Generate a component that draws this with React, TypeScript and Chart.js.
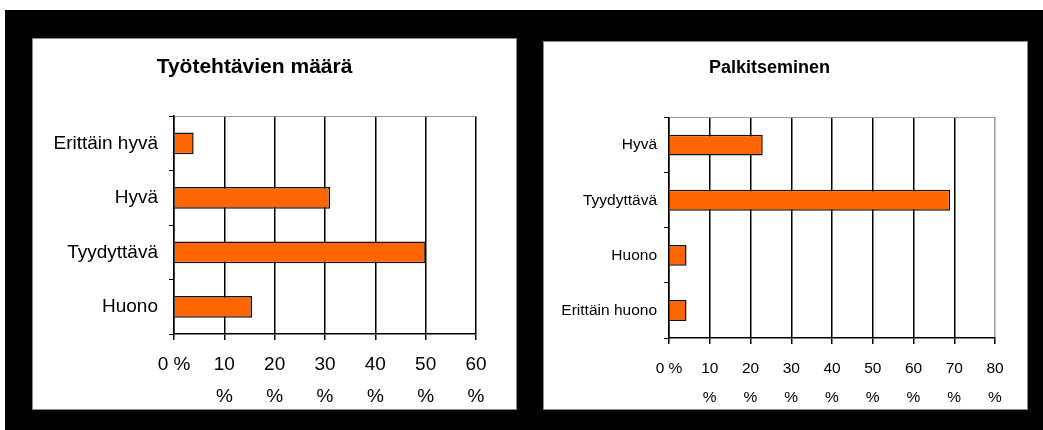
import React, { useEffect, useRef } from "react";
import { Chart, registerables } from "chart.js";

Chart.register(...registerables);

const leftTitle = "Työtehtävien määrä";
const leftCategories = ["Erittäin hyvä", "Hyvä", "Tyydyttävä", "Huono"];
const leftValues = [3.9, 31, 50, 15.5];
const leftMax = 60;

const rightTitle = "Palkitseminen";
const rightCategories = ["Hyvä", "Tyydyttävä", "Huono", "Erittäin huono"];
const rightValues = [23, 69, 4.3, 4.3];
const rightMax = 80;

const tickStep = 10;
const FONT = "'Liberation Sans', Arial, sans-serif";

type PanelCfg = {
  title: string;
  categories: string[];
  values: number[];
  max: number;
  width: number;
  height: number;
  yWidth: number;
  xHeight: number;
  padRight: number;
  titleSize: number;
  titlePadTop: number;
  titlePadBottom: number;
  labelSize: number;
  xLineHeight: number;
  xPad: number;
  yPad: number;
  barPct: number;
  lastGridColor: string;
};

function Panel({ cfg }: { cfg: PanelCfg }) {
  const ref = useRef<HTMLCanvasElement | null>(null);
  useEffect(() => {
    if (!ref.current) return;
    const chart = new Chart(ref.current, {
      type: "bar",
      data: {
        labels: cfg.categories,
        datasets: [
          {
            data: cfg.values,
            backgroundColor: "#FF6600",
            borderColor: "#111",
            borderWidth: 1.5,
            barPercentage: cfg.barPct,
            categoryPercentage: 1,
          },
        ],
      },
      options: {
        indexAxis: "y",
        responsive: false,
        animation: false,
        layout: { padding: { left: 0, right: cfg.padRight, top: 0, bottom: 0 } },
        plugins: {
          legend: { display: false },
          tooltip: { enabled: false },
          title: {
            display: true,
            text: cfg.title,
            color: "#000",
            font: { family: FONT, size: cfg.titleSize, weight: "bold", lineHeight: 1.2 },
            padding: { top: cfg.titlePadTop, bottom: cfg.titlePadBottom },
          },
        },
        scales: {
          x: {
            type: "linear",
            min: 0,
            max: cfg.max,
            ticks: {
              stepSize: tickStep,
              color: "#000",
              padding: cfg.xPad,
              maxRotation: 0,
              autoSkip: false,
              font: { family: FONT, size: cfg.labelSize, lineHeight: cfg.xLineHeight },
              callback: (v: any) => (Number(v) === 0 ? "0 %" : [String(v), "%"]),
            },
            grid: {
              color: (ctx: any) =>
                ctx.tick && ctx.tick.value === cfg.max ? cfg.lastGridColor : "#000",
              lineWidth: 1.5,
              tickColor: "#000",
              tickLength: 6,
            },
            border: { color: "#000", width: 1.5 },
            afterFit: (scale: any) => {
              scale.height = cfg.xHeight;
            },
          },
          y: {
            type: "category",
            offset: true,
            ticks: {
              color: "#000",
              padding: cfg.yPad,
              font: { family: FONT, size: cfg.labelSize },
            },
            grid: {
              offset: true,
              color: (ctx: any) => (ctx.index === 0 ? "#999" : "rgba(0,0,0,0)"),
              lineWidth: 1,
              tickColor: "#000",
              tickLength: 5,
            },
            border: { color: "#000", width: 1.5 },
            afterFit: (scale: any) => {
              scale.width = cfg.yWidth;
            },
          },
        },
      } as any,
    });
    return () => chart.destroy();
  }, [cfg]);
  return <canvas ref={ref} width={cfg.width} height={cfg.height} style={{ display: "block" }} />;
}

const leftCfg: PanelCfg = {
  title: leftTitle,
  categories: leftCategories,
  values: leftValues,
  max: leftMax,
  width: 483,
  height: 370,
  yWidth: 141,
  xHeight: 75,
  padRight: 40,
  titleSize: 21,
  titlePadTop: 16,
  titlePadBottom: 36,
  labelSize: 19,
  xLineHeight: 1.66,
  xPad: 9,
  yPad: 11,
  barPct: 0.4,
  lastGridColor: "#000",
};

const rightCfg: PanelCfg = {
  title: rightTitle,
  categories: rightCategories,
  values: rightValues,
  max: rightMax,
  width: 483,
  height: 367,
  yWidth: 125,
  xHeight: 71,
  padRight: 32,
  titleSize: 18,
  titlePadTop: 15,
  titlePadBottom: 39,
  labelSize: 15.5,
  xLineHeight: 1.87,
  xPad: 10.5,
  yPad: 7,
  barPct: 0.38,
  lastGridColor: "#999",
};

export default function App() {
  return (
    <div
      style={{
        position: "absolute",
        left: 0,
        top: 0,
        width: 1043,
        height: 430,
        background: "#fff",
        overflow: "hidden",
      }}
    >
      <div
        style={{
          position: "absolute",
          left: 5,
          top: 10,
          width: 1038,
          height: 420,
          background: "#000",
        }}
      />
      <div
        style={{
          position: "absolute",
          left: 33,
          top: 39,
          width: 483,
          height: 370,
          background: "#fff",
          outline: "1px solid #888",
        }}
      >
        <Panel cfg={leftCfg} />
      </div>
      <div
        style={{
          position: "absolute",
          left: 544,
          top: 42,
          width: 483,
          height: 367,
          background: "#fff",
          outline: "1px solid #888",
        }}
      >
        <Panel cfg={rightCfg} />
      </div>
    </div>
  );
}
